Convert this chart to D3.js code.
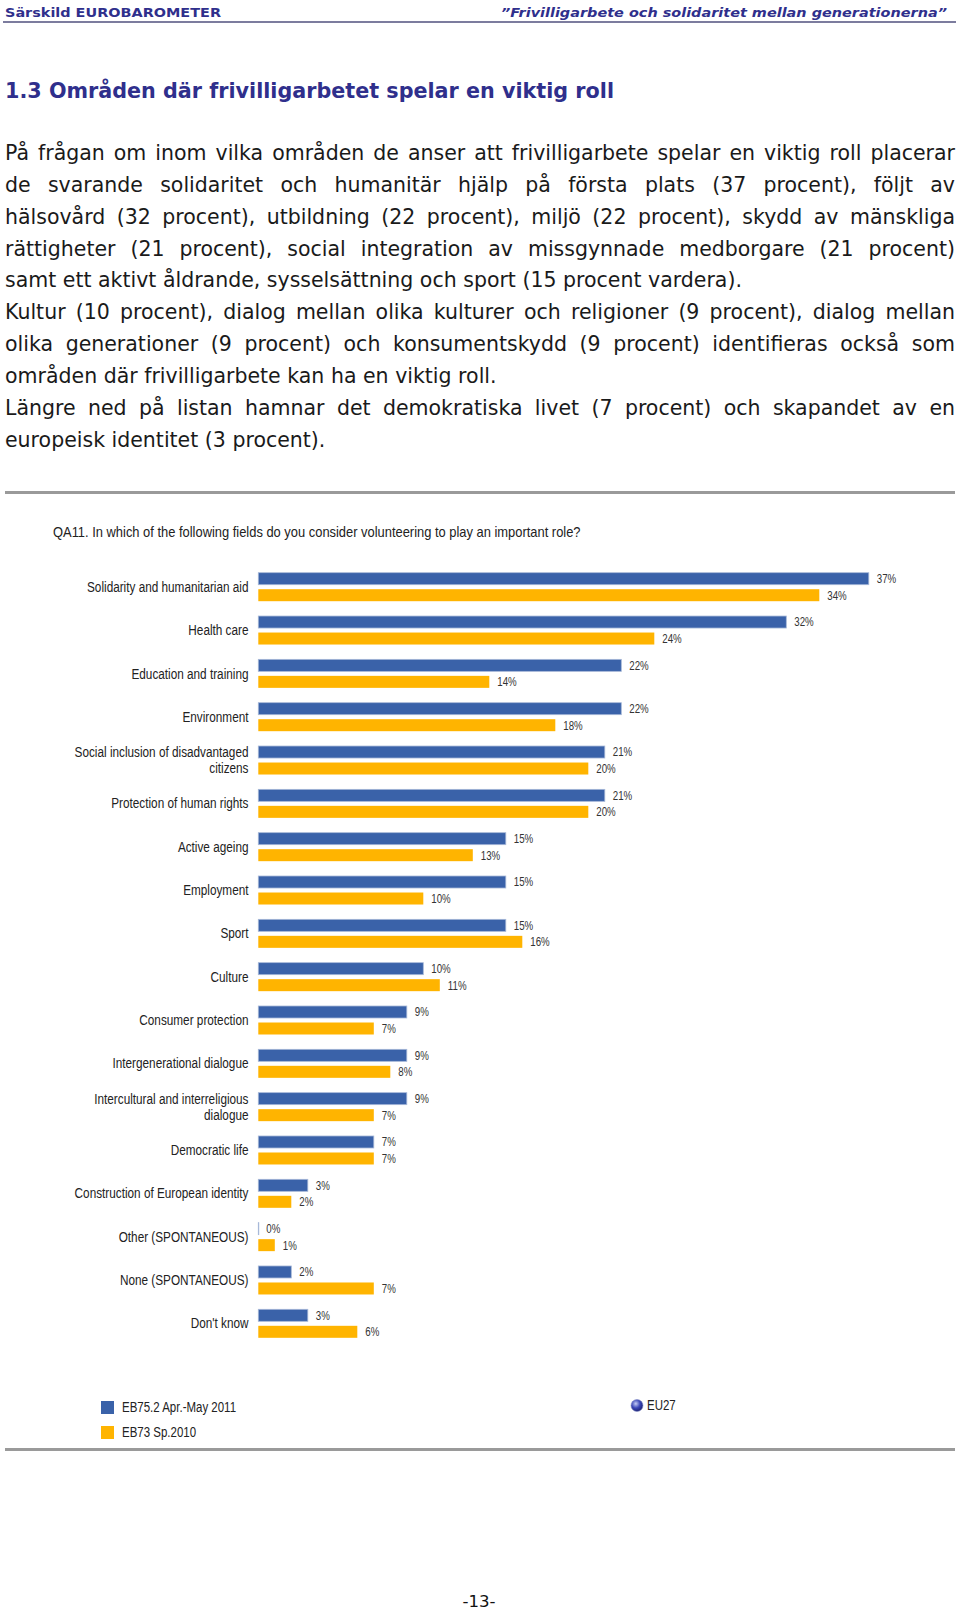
<!DOCTYPE html>
<html>
<head>
<meta charset="utf-8">
<script src="https://cdn.jsdelivr.net/npm/d3@7"></script>
<style>
  body { margin: 0; background: #fff; }
  svg { display: block; }
</style>
</head>
<body>
<svg id="page" width="960" height="1612"></svg>
<script>
// ---- data ----
const categories = [
  "Solidarity and humanitarian aid",
  "Health care",
  "Education and training",
  "Environment",
  "Social inclusion of disadvantaged\ncitizens",
  "Protection of human rights",
  "Active ageing",
  "Employment",
  "Sport",
  "Culture",
  "Consumer protection",
  "Intergenerational dialogue",
  "Intercultural and interreligious\ndialogue",
  "Democratic life",
  "Construction of European identity",
  "Other (SPONTANEOUS)",
  "None (SPONTANEOUS)",
  "Don't know"
];
const wave2011 = [37, 32, 22, 22, 21, 21, 15, 15, 15, 10, 9, 9, 9, 7, 3, 0, 2, 3];
const wave2010 = [34, 24, 14, 18, 20, 20, 13, 10, 16, 11, 7, 8, 7, 7, 2, 1, 7, 6];
const seriesNames = ["EB75.2 Apr.-May 2011", "EB73 Sp.2010"];
const seriesColors = ["#3a62a9", "#ffb400"];
const question = "QA11. In which of the following fields do you consider volunteering to play an important role?";

const headerLeft = "Särskild EUROBAROMETER";
const headerRight = "\u201DFrivilligarbete och solidaritet mellan generationerna\u201D";
const sectionTitle = "1.3 Områden där frivilligarbetet spelar en viktig roll";
// [text, justified]
const bodyLines = [
  ["På frågan om inom vilka områden de anser att frivilligarbete spelar en viktig roll placerar", true],
  ["de svarande solidaritet och humanitär hjälp på första plats (37 procent), följt av", true],
  ["hälsovård (32 procent), utbildning (22 procent), miljö (22 procent), skydd av mänskliga", true],
  ["rättigheter (21 procent), social integration av missgynnade medborgare (21 procent)", true],
  ["samt ett aktivt åldrande, sysselsättning och sport (15 procent vardera).", false],
  ["Kultur (10 procent), dialog mellan olika kulturer och religioner (9 procent), dialog mellan", true],
  ["olika generationer (9 procent) och konsumentskydd (9 procent) identifieras också som", true],
  ["områden där frivilligarbete kan ha en viktig roll.", false],
  ["Längre ned på listan hamnar det demokratiska livet (7 procent) och skapandet av en", true],
  ["europeisk identitet (3 procent).", false]
];
const pageNumber = "-13-";

// ---- page ----
const svg = d3.select("#page");
const sans = "'Liberation Sans', Arial, sans-serif";
const navy = "#2f2f8c";

// no narrow font installed: squeeze glyphs to the chart's condensed look
function condense(sel, f) {
  sel.each(function() {
    const w = this.getComputedTextLength();
    d3.select(this).attr("textLength", w * f).attr("lengthAdjust", "spacingAndGlyphs");
  });
}

// header
svg.append("text")
  .attr("x", 5).attr("y", 17)
  .attr("font-family", "'DejaVu Sans', sans-serif")
  .attr("font-weight", "bold").attr("font-size", 13)
  .attr("fill", navy)
  .attr("textLength", 216).attr("lengthAdjust", "spacingAndGlyphs")
  .text(headerLeft);

svg.append("text")
  .attr("x", 947).attr("y", 17)
  .attr("text-anchor", "end")
  .attr("font-family", "'DejaVu Sans', sans-serif")
  .attr("font-weight", "bold").attr("font-style", "italic").attr("font-size", 13)
  .attr("fill", navy)
  .attr("textLength", 446).attr("lengthAdjust", "spacingAndGlyphs")
  .text(headerRight);

svg.append("line")
  .attr("x1", 3).attr("x2", 956).attr("y1", 22).attr("y2", 22)
  .attr("stroke", "#50507e").attr("stroke-width", 1.6);

// section title
svg.append("text")
  .attr("x", 5).attr("y", 97.5)
  .attr("font-family", "'DejaVu Sans', sans-serif")
  .attr("font-weight", "bold").attr("font-size", 20.5)
  .attr("fill", navy)
  .attr("textLength", 609).attr("lengthAdjust", "spacingAndGlyphs")
  .text(sectionTitle);

// body paragraph, justified word by word
const body = svg.append("g")
  .attr("font-family", "'DejaVu Sans', Verdana, sans-serif")
  .attr("font-size", 20.5)
  .attr("fill", "#1a1a1a");

const leftX = 5, rightX = 955;
const probe = body.append("text").attr("x", -1000).attr("y", -1000);
function measure(s) { probe.text(s); return probe.node().getComputedTextLength(); }
const spaceW = measure("a a") - measure("aa");

bodyLines.forEach(([line, justify], i) => {
  const words = line.split(" ");
  const widths = words.map(measure);
  const total = d3.sum(widths);
  const gap = justify ? (rightX - leftX - total) / (words.length - 1) : spaceW;
  const t = body.append("text").attr("y", 160 + i * 31.85);
  let x = leftX;
  words.forEach((w, j) => {
    t.append("tspan").attr("x", x).text(w);
    x += widths[j] + gap;
  });
});
probe.remove();

// dividers
[492.5, 1449.5].forEach(y => {
  svg.append("line")
    .attr("x1", 5).attr("x2", 955).attr("y1", y).attr("y2", y)
    .attr("stroke", "#9a9a9a").attr("stroke-width", 3);
});

// question
svg.append("text")
  .attr("x", 53).attr("y", 536.5)
  .attr("font-family", sans).attr("font-size", 15)
  .attr("fill", "#222")
  .text(question)
  .call(condense, 0.86);

// ---- chart ----
const x = d3.scaleLinear().domain([0, 37]).range([258.3, 868.8]);
const y = d3.scaleBand().domain(categories).range([572.7, 572.7 + 43.33 * categories.length]);
const ySub = d3.scaleBand().domain([0, 1]).range([0, 28.5]).paddingInner(0.273);

const rows = categories.map((c, i) => ({ cat: c, vals: [wave2011[i], wave2010[i]] }));

const chart = svg.append("g");
const row = chart.selectAll("g.row").data(rows).enter()
  .append("g").attr("class", "row")
  .attr("transform", d => `translate(0,${y(d.cat)})`);

// category labels, one text per line
row.each(function(d) {
  const lines = d.cat.split("\n");
  const g = d3.select(this);
  lines.forEach((l, k) => {
    g.append("text")
      .attr("x", 248.5)
      .attr("y", 14.25 + (k - (lines.length - 1) / 2) * 15.6)
      .attr("dy", "0.35em")
      .attr("text-anchor", "end")
      .attr("font-family", sans).attr("font-size", 14)
      .attr("fill", "#222")
      .text(l)
      .call(condense, 0.84);
  });
});

const bar = row.selectAll("g.bar")
  .data(d => d.vals.map((v, k) => ({ v, k })))
  .enter().append("g").attr("class", "bar");

bar.append("rect")
  .attr("x", x(0))
  .attr("y", d => ySub(d.k))
  .attr("width", d => Math.max(0.5, x(d.v) - x(0)))
  .attr("height", ySub.bandwidth())
  .attr("fill", d => seriesColors[d.k])
  .attr("stroke", d => d.k === 0 ? "#a7b8d8" : "none")
  .attr("stroke-width", 0.8);

bar.append("text")
  .attr("x", d => x(d.v) + 8)
  .attr("y", d => ySub(d.k) + ySub.bandwidth() / 2)
  .attr("dy", "0.33em")
  .attr("font-family", sans).attr("font-size", 13.5)
  .attr("fill", "#333")
  .text(d => d.v + "%")
  .call(condense, 0.72);

// ---- legend ----
const legend = svg.append("g");
seriesNames.forEach((name, k) => {
  const ly = 1401 + k * 25;
  legend.append("rect")
    .attr("x", 101).attr("y", ly).attr("width", 13).attr("height", 13)
    .attr("fill", seriesColors[k]);
  legend.append("text")
    .attr("x", 122).attr("y", ly + 6.5).attr("dy", "0.35em")
    .attr("font-family", sans).attr("font-size", 14)
    .attr("fill", "#222")
    .text(name)
    .call(condense, 0.82);
});

const defs = svg.append("defs");
const grad = defs.append("radialGradient").attr("id", "globe")
  .attr("cx", "40%").attr("cy", "35%").attr("r", "65%");
grad.append("stop").attr("offset", "0%").attr("stop-color", "#c4ccf4");
grad.append("stop").attr("offset", "55%").attr("stop-color", "#3b47b8");
grad.append("stop").attr("offset", "100%").attr("stop-color", "#1c2275");
legend.append("circle")
  .attr("cx", 637).attr("cy", 1405.5).attr("r", 6)
  .attr("fill", "url(#globe)")
  .attr("stroke", "#8890c8").attr("stroke-width", 0.6);
legend.append("text")
  .attr("x", 647).attr("y", 1405.5).attr("dy", "0.35em")
  .attr("font-family", sans).attr("font-size", 14)
  .attr("fill", "#222")
  .text("EU27")
  .call(condense, 0.82);

// page number
svg.append("text")
  .attr("x", 479).attr("y", 1607)
  .attr("text-anchor", "middle")
  .attr("font-family", "'DejaVu Sans', sans-serif").attr("font-size", 16)
  .attr("fill", "#111")
  .attr("textLength", 33).attr("lengthAdjust", "spacingAndGlyphs")
  .text(pageNumber);
</script>
</body>
</html>
